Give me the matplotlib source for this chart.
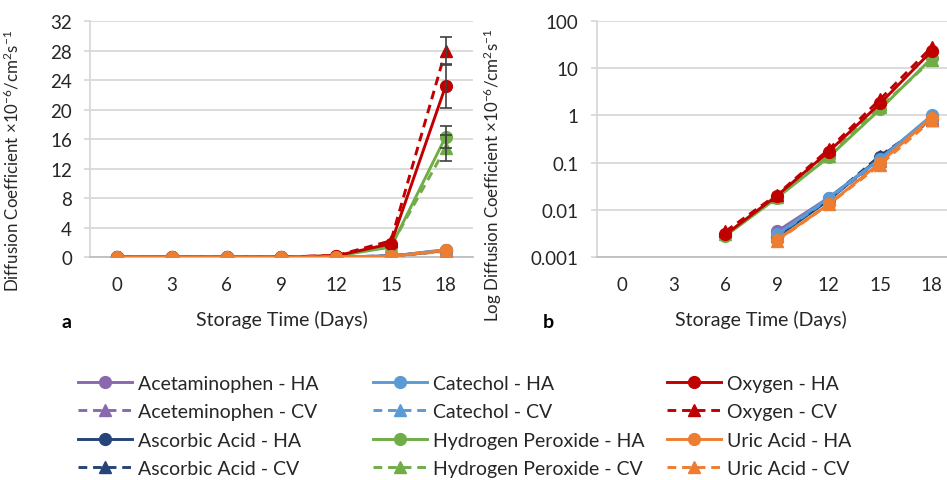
import numpy as np
import matplotlib
matplotlib.use('Agg')
import matplotlib.pyplot as plt
from matplotlib.lines import Line2D

plt.rcParams['font.family'] = ['Lato', 'DejaVu Sans']
plt.rcParams['mathtext.fontset'] = 'custom'
plt.rcParams['mathtext.rm'] = 'Lato'
plt.rcParams['mathtext.it'] = 'Lato:italic'

days = [0, 3, 6, 9, 12, 15, 18]

acet_ha = [0, 0, 0, 0.0035, 0.018, 0.12, 0.95]
acet_cv = [0, 0, 0, 0.0032, 0.017, 0.11, 0.90]
asc_ha = [0, 0, 0, 0.0027, 0.016, 0.13, 0.85]
asc_cv = [0, 0, 0, 0.0028, 0.017, 0.14, 0.80]
cat_ha = [0, 0, 0, 0.0030, 0.018, 0.12, 1.00]
cat_cv = [0, 0, 0, 0.0029, 0.017, 0.12, 0.95]
h2o2_ha = [0, 0, 0.0028, 0.018, 0.13, 1.35, 16.3]
h2o2_cv = [0, 0, 0.0030, 0.019, 0.14, 1.50, 14.8]
oxy_ha = [0, 0, 0.0030, 0.020, 0.17, 1.80, 23.2]
oxy_cv = [0, 0, 0.0035, 0.021, 0.19, 2.20, 28.0]
uric_ha = [0, 0, 0, 0.0023, 0.013, 0.10, 0.90]
uric_cv = [0, 0, 0, 0.0022, 0.013, 0.09, 0.80]

# error bars (only visible at day 18)
h2o2_ha_err = [0, 0, 0, 0, 0, 0, 1.5]
h2o2_cv_err = [0, 0, 0, 0, 0, 0, 1.8]
oxy_ha_err = [0, 0, 0, 0, 0, 0, 3.0]
oxy_cv_err = [0, 0, 0, 0, 0, 0, 1.9]

purple = '#8A68AE'
lblue = '#5B9BD5'
red = '#C00000'
dblue = '#264478'
green = '#70AD47'
orange = '#ED7D31'

series = [
    ('Acetaminophen - HA', acet_ha, purple, '-', 'o', None),
    ('Aceteminophen - CV', acet_cv, purple, '--', '^', None),
    ('Ascorbic Acid - HA', asc_ha, dblue, '-', 'o', None),
    ('Ascorbic Acid - CV', asc_cv, dblue, '--', '^', None),
    ('Catechol - HA', cat_ha, lblue, '-', 'o', None),
    ('Catechol - CV', cat_cv, lblue, '--', '^', None),
    ('Hydrogen Peroxide - HA', h2o2_ha, green, '-', 'o', h2o2_ha_err),
    ('Hydrogen Peroxide - CV', h2o2_cv, green, '--', '^', h2o2_cv_err),
    ('Oxygen - HA', oxy_ha, red, '-', 'o', oxy_ha_err),
    ('Oxygen - CV', oxy_cv, red, '--', '^', oxy_cv_err),
    ('Uric Acid - HA', uric_ha, orange, '-', 'o', None),
    ('Uric Acid - CV', uric_cv, orange, '--', '^', None),
]

fig = plt.figure(figsize=(9.47, 4.81), dpi=100)
ax1 = fig.add_axes([0.095, 0.4636, 0.4045, 0.4906])
ax2 = fig.add_axes([0.630, 0.4636, 0.370, 0.4906])

grid_c = '#D9D9D9'
txt_c = '#262626'
fs = 14
tfs = 13.5
yfs = 12.2
lfs = 14


def style_kw(ls, mk):
    kw = dict(color=None, linestyle=ls, marker=mk, markersize=8.5, linewidth=2.1)
    if ls == '--':
        kw['dashes'] = (3, 2)
    return kw


for name, vals, col, ls, mk, err in series:
    y = np.array(vals, dtype=float)
    kw = style_kw(ls, mk)
    kw['color'] = col
    ax1.plot(days, y, zorder=3, **kw)
    if err is not None:
        e = np.array(err, dtype=float)
        m = e > 0
        ax1.errorbar(np.array(days)[m], y[m], yerr=e[m], fmt='none',
                     ecolor='#404040', elinewidth=1.2, capsize=4, capthick=1.2, zorder=4)
    ylog = np.where(y > 0, y, np.nan)
    ax2.plot(days, ylog, zorder=3, **kw)

# panel a
ax1.set_xlim(-1.5, 19.5)
ax1.set_ylim(0, 32)
ax1.set_yticks(range(0, 33, 4))
ax1.set_xticks(days)
ax1.set_ylabel(r'Diffusion Coefficient ×10$^{-6}$/cm$^{2}$s$^{-1}$', fontsize=yfs, color=txt_c)
ax1.set_xlabel('Storage Time (Days)', fontsize=fs, color=txt_c)
ax1.yaxis.set_label_coords(-0.178, 0.41)
ax1.xaxis.set_label_coords(0.5, -0.225)

# panel b
ax2.set_yscale('log')
ax2.set_xlim(-1.5, 18.89)
ax2.set_ylim(0.001, 100)
ax2.set_yticks([0.001, 0.01, 0.1, 1, 10, 100])
ax2.set_yticklabels(['0.001', '0.01', '0.1', '1', '10', '100'])
ax2.minorticks_off()
ax2.set_xticks(days)
ax2.set_ylabel(r'Log Diffusion Coefficient ×10$^{-6}$/cm$^{2}$s$^{-1}$', fontsize=yfs, color=txt_c)
ax2.set_xlabel('Storage Time (Days)', fontsize=fs, color=txt_c)
ax2.yaxis.set_label_coords(-0.263, 0.35)
ax2.xaxis.set_label_coords(0.47, -0.225)

for ax in (ax1, ax2):
    ax.grid(axis='y', color=grid_c, linewidth=1.3)
    ax.set_axisbelow(True)
    for s in ('top', 'right'):
        ax.spines[s].set_visible(False)
    ax.spines['left'].set_color(grid_c)
    ax.spines['bottom'].set_color('#BFBFBF')
    ax.spines['left'].set_linewidth(1.3)
    ax.spines['bottom'].set_linewidth(1.3)
    ax.tick_params(axis='y', length=4, width=1.3, color=grid_c, labelsize=tfs,
                   labelcolor=txt_c, pad=9)
    ax.tick_params(axis='x', length=0, labelsize=tfs, labelcolor=txt_c, pad=14)

fig.text(61 / 947, 1 - 322 / 481, 'a', fontsize=fs, fontweight='bold', va='center')
fig.text(543 / 947, 1 - 323 / 481, 'b', fontsize=fs, fontweight='bold', va='center')

# legend in three columns
handles = []
for name, vals, col, ls, mk, err in series:
    kw = style_kw(ls, mk)
    kw['color'] = col
    handles.append(Line2D([], [], **kw))
labels = [s[0] for s in series]
col_x = [78, 373, 667]
for i, x0 in enumerate(col_x):
    leg = fig.legend(handles[4 * i:4 * i + 4], labels[4 * i:4 * i + 4],
                     loc='upper left', bbox_to_anchor=(x0 / 947, 1 - 376 / 481),
                     frameon=False, fontsize=lfs, handlelength=2.8,
                     handletextpad=0.28, labelspacing=0.58, borderpad=0,
                     borderaxespad=0, labelcolor=txt_c)

fig.savefig('out.png', dpi=100)
